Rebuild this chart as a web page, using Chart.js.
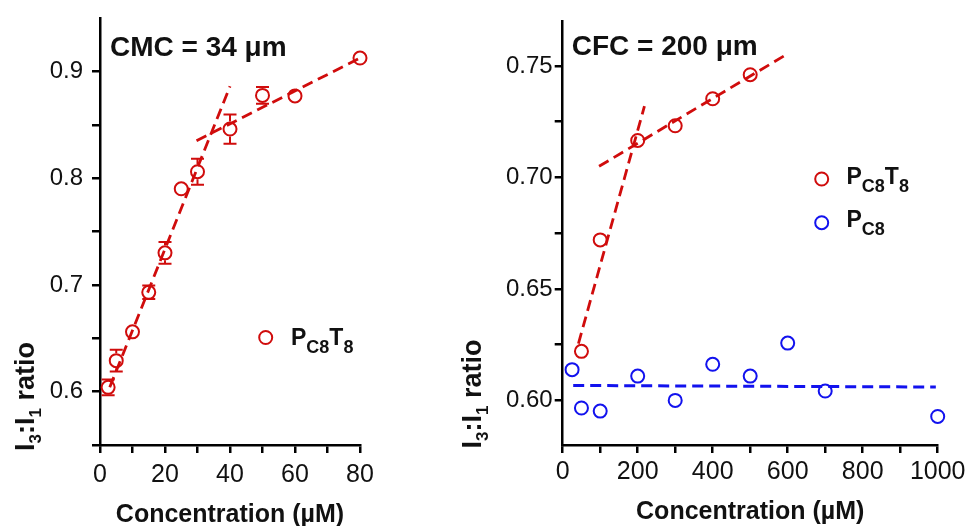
<!DOCTYPE html>
<html>
<head>
<meta charset="utf-8">
<title>Pyrene I3:I1 ratio vs concentration</title>
<script src="https://cdn.jsdelivr.net/npm/chart.js@4.4.1/dist/chart.umd.min.js"></script>
<style>
  html, body { margin: 0; padding: 0; background: #ffffff; }
  #wrap { position: relative; width: 970px; height: 526px; overflow: hidden; }
  canvas { position: absolute; top: 0; }
  #cmc { left: 0; }
  #cfc { left: 450px; }
</style>
</head>
<body>
<div id="wrap">
  <canvas id="cmc" width="450" height="526"></canvas>
  <canvas id="cfc" width="520" height="526"></canvas>
</div>
<script>
// ---- Left panel: PC8T8 (CMC) ----
const cmcConc  = [2.5, 5, 10, 15, 20, 25, 30, 40, 50, 60, 80];
const cmcRatio = [0.604, 0.629, 0.656, 0.693, 0.730, 0.790, 0.806, 0.846, 0.8775, 0.877, 0.9125];
const cmcError = [0.0073, 0.0102, 0, 0.0063, 0.0101, 0, 0.0122, 0.0137, 0.0078, 0, 0];
// linear fits below / above the break
const cmcFitLowX  = [3, 40];
const cmcFitLowY  = [0.604, 0.886];
const cmcFitHighX = [29.7, 80];
const cmcFitHighY = [0.835, 0.9125];
const cmcXTicks  = [0, 10, 20, 30, 40, 50, 60, 70, 80];
const cmcXLabels = ['0', '', '20', '', '40', '', '60', '', '80'];
const cmcYTicks  = [0.55, 0.6, 0.65, 0.7, 0.75, 0.8, 0.85, 0.9];
const cmcYLabels = ['', '0.6', '', '0.7', '', '0.8', '', '0.9'];

// ---- Right panel: PC8T8 and PC8 (CFC) ----
const cfcConc  = [50, 100, 200, 300, 400, 500];
const cfcRatio = [0.622, 0.672, 0.7166, 0.7232, 0.7353, 0.7461];
const pc8Conc  = [25, 50, 100, 200, 300, 400, 500, 600, 700, 1000];
const pc8Ratio = [0.6138, 0.5966, 0.5952, 0.6109, 0.600, 0.6162, 0.6109, 0.6257, 0.6042, 0.5928];
const cfcFitLowX  = [42, 218];
const cfcFitLowY  = [0.6255, 0.732];
const cfcFitHighX = [97, 602];
const cfcFitHighY = [0.705, 0.7557];
const pc8FitX = [28, 995];
const pc8FitY = [0.6067, 0.606];
const cfcXTicks  = [0, 100, 200, 300, 400, 500, 600, 700, 800, 900, 1000];
const cfcXLabels = ['0', '', '200', '', '400', '', '600', '', '800', '', '1000'];
const cfcYTicks  = [0.6, 0.625, 0.65, 0.675, 0.7, 0.725, 0.75];
const cfcYLabels = ['0.60', '', '0.65', '', '0.70', '', '0.75'];

const FONT = '"Liberation Sans", Arial, Helvetica, sans-serif';
const RED  = '#d00c0c';
const BLUE = '#1212ee';
const INK  = '#111111';

const pairs = (xs, ys) => xs.map((x, i) => ({ x: x, y: ys[i] }));

function markerSet(xs, ys, color, errs) {
  return {
    data: pairs(xs, ys),
    yErr: errs || null,
    showLine: false,
    pointStyle: 'circle',
    pointRadius: 6.5,
    pointHoverRadius: 6.5,
    pointBorderWidth: 2,
    borderColor: color,
    pointBorderColor: color,
    backgroundColor: 'rgba(0,0,0,0)',
    pointBackgroundColor: 'rgba(0,0,0,0)',
    clip: false,
    order: 1
  };
}

function fitSet(xs, ys, color, width) {
  return {
    data: pairs(xs, ys),
    showLine: true,
    borderColor: color,
    borderWidth: width,
    borderDash: [11, 6],
    pointRadius: 0,
    pointHoverRadius: 0,
    fill: false,
    clip: false,
    order: 2
  };
}

// Linear axis with an explicit tick list; the box size is fixed so the plot area lands exactly.
function linearAxis(min, max, values, labels, fontSize, pad, fit) {
  return {
    type: 'linear',
    min: min,
    max: max,
    afterBuildTicks: s => { s.ticks = values.map(v => ({ value: v })); },
    afterFit: s => {
      fit(s);
      s.paddingTop = 0; s.paddingBottom = 0;
      s.paddingLeft = 0; s.paddingRight = 0;
    },
    ticks: {
      callback: (v, i) => labels[i],
      autoSkip: false,
      maxRotation: 0,
      minRotation: 0,
      padding: pad,
      color: INK,
      font: { family: FONT, size: fontSize }
    },
    grid: {
      drawOnChartArea: false,
      drawTicks: true,
      tickLength: 8,
      tickWidth: 2.5,
      tickColor: '#000',
      color: '#000',
      lineWidth: 2.5
    },
    border: { display: true, color: '#000', width: 2.5 }
  };
}

// Draws text runs with optional subscripts; returns the advance width.
function drawRich(ctx, segs, x, y, size, subSize, subDrop) {
  let cx = x;
  for (const s of segs) {
    ctx.font = 'bold ' + (s.sub ? subSize : size) + 'px ' + FONT;
    ctx.fillText(s.t, cx, y + (s.sub ? subDrop : 0));
    cx += ctx.measureText(s.t).width;
  }
  return cx - x;
}

// Vertical error bars with caps, drawn outside the hollow markers.
const errorBars = {
  id: 'errorBars',
  afterDatasetsDraw(chart) {
    const ctx = chart.ctx;
    const ys = chart.scales.y;
    chart.data.datasets.forEach((ds, di) => {
      if (!ds.yErr) return;
      const meta = chart.getDatasetMeta(di);
      ctx.save();
      ctx.strokeStyle = ds.borderColor;
      ctx.lineWidth = 2;
      meta.data.forEach((pt, i) => {
        const e = ds.yErr[i];
        if (!e) return;
        const v = ds.data[i].y;
        const top = ys.getPixelForValue(v + e);
        const bot = ys.getPixelForValue(v - e);
        const r = ds.pointRadius + 1;
        const cap = 6.5;
        ctx.beginPath();
        if (pt.y - r > top) { ctx.moveTo(pt.x, top); ctx.lineTo(pt.x, pt.y - r); }
        if (pt.y + r < bot) { ctx.moveTo(pt.x, pt.y + r); ctx.lineTo(pt.x, bot); }
        ctx.moveTo(pt.x - cap, top); ctx.lineTo(pt.x + cap, top);
        ctx.moveTo(pt.x - cap, bot); ctx.lineTo(pt.x + cap, bot);
        ctx.stroke();
      });
      ctx.restore();
    });
  }
};

// Axis titles, in-panel annotation and legend (with subscripts).
const panelText = {
  id: 'panelText',
  afterDraw(chart, args, o) {
    const ctx = chart.ctx;
    const area = chart.chartArea;
    ctx.save();
    ctx.fillStyle = INK;
    ctx.textBaseline = 'alphabetic';
    ctx.textAlign = 'left';

    // annotation
    ctx.font = 'bold 28px ' + FONT;
    ctx.fillText(o.note, o.noteX, o.noteY);

    // x title
    ctx.font = 'bold 25px ' + FONT;
    ctx.textAlign = 'center';
    ctx.fillText('Concentration (\u00B5M)', (area.left + area.right) / 2, o.xTitleY);
    ctx.textAlign = 'left';

    // y title, rotated
    ctx.save();
    ctx.translate(o.yTitleX, o.yTitleY);
    ctx.rotate(-Math.PI / 2);
    drawRich(ctx, [
      { t: 'I' }, { t: '3', sub: true }, { t: ':' }, { t: 'I' }, { t: '1', sub: true }, { t: ' ratio' }
    ], 0, 0, 27, 17, 7);
    ctx.restore();

    // legend
    o.legend.forEach(item => {
      ctx.beginPath();
      ctx.arc(item.cx, item.cy, 6.5, 0, Math.PI * 2);
      ctx.lineWidth = 2;
      ctx.strokeStyle = item.color;
      ctx.stroke();
      ctx.fillStyle = INK;
      drawRich(ctx, item.segs, item.tx, item.ty, 23, 18, 8);
    });
    ctx.restore();
  }
};

const pc8t8Segs = [{ t: 'P' }, { t: 'C8', sub: true }, { t: 'T' }, { t: '8', sub: true }];
const pc8Segs   = [{ t: 'P' }, { t: 'C8', sub: true }];

function baseOptions(layoutPad, xAxis, yAxis, text) {
  return {
    responsive: false,
    devicePixelRatio: 1,
    animation: false,
    events: [],
    layout: { padding: layoutPad },
    scales: { x: xAxis, y: yAxis },
    plugins: {
      legend: { display: false },
      tooltip: { enabled: false },
      title: { display: false },
      panelText: text
    }
  };
}

new Chart(document.getElementById('cmc'), {
  type: 'scatter',
  data: {
    datasets: [
      fitSet(cmcFitLowX, cmcFitLowY, RED, 2.8),
      fitSet(cmcFitHighX, cmcFitHighY, RED, 2.8),
      markerSet(cmcConc, cmcRatio, RED, cmcError)
    ]
  },
  options: baseOptions(
    { top: 18, right: 90, left: 0, bottom: 0 },
    linearAxis(0, 80, cmcXTicks, cmcXLabels, 25, 7, s => { s.height = 81; }),
    linearAxis(0.55, 0.95, cmcYTicks, cmcYLabels, 24, 9, s => { s.width = 100; }),
    {
      note: 'CMC = 34 \u03BCm', noteX: 110, noteY: 56,
      xTitleY: 521.5,
      yTitleX: 34, yTitleY: 451,
      legend: [{ cx: 265.7, cy: 337.5, color: RED, segs: pc8t8Segs, tx: 291, ty: 344.5 }]
    }
  ),
  plugins: [errorBars, panelText]
});

new Chart(document.getElementById('cfc'), {
  type: 'scatter',
  data: {
    datasets: [
      fitSet(cfcFitLowX, cfcFitLowY, RED, 2.8),
      fitSet(cfcFitHighX, cfcFitHighY, RED, 2.8),
      fitSet(pc8FitX, pc8FitY, BLUE, 3),
      markerSet(cfcConc, cfcRatio, RED),
      markerSet(pc8Conc, pc8Ratio, BLUE)
    ]
  },
  options: baseOptions(
    { top: 21.4, right: 32.3, left: 0, bottom: 0 },
    linearAxis(0, 1000, cfcXTicks, cfcXLabels, 25, 4, s => { s.height = 81; }),
    linearAxis(0.58, 0.77, cfcYTicks, cfcYLabels, 24, 2, s => { s.width = 112.7; }),
    {
      note: 'CFC = 200 \u03BCm', noteX: 121.7, noteY: 55,
      xTitleY: 518.5,
      yTitleX: 30.7, yTitleY: 448.5,
      legend: [
        { cx: 371.7, cy: 179, color: RED, segs: pc8t8Segs, tx: 396.5, ty: 183.5 },
        { cx: 371.7, cy: 222.7, color: BLUE, segs: pc8Segs, tx: 396.5, ty: 227 }
      ]
    }
  ),
  plugins: [errorBars, panelText]
});
</script>
</body>
</html>
